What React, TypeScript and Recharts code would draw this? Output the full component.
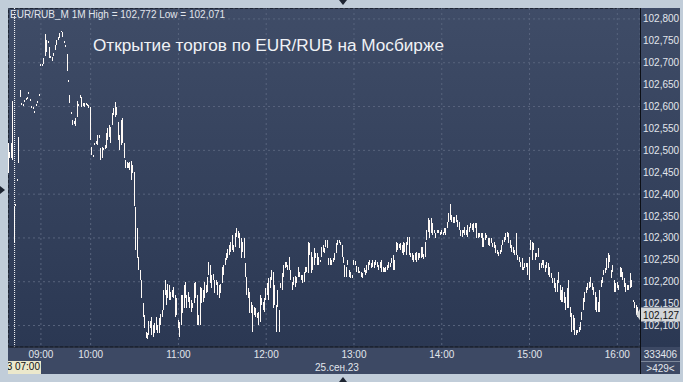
import React from 'react';
import { BarChart, Bar, XAxis, YAxis, CartesianGrid, ReferenceLine } from 'recharts';

// minute bars (low / high), grouped by trading hour
const preLow = [102.449, 102.483, 102.483, 102.478, 102.289, 102.373, 102.430, 102.471, 102.622, 102.604, 102.602, 102.611, 102.616, 102.618, 102.629, 102.613, 102.597, 102.595, 102.586, 102.602, 102.609, 102.625];
const preHigh = [102.517, 102.497, 102.517, 102.613, 102.371, 102.377, 102.434, 102.530, 102.638, 102.608, 102.606, 102.615, 102.620, 102.622, 102.633, 102.617, 102.601, 102.599, 102.590, 102.606, 102.613, 102.629];

const h09Low = [102.693, 102.694, 102.697, 102.716, 102.725, 102.746, 102.711, 102.711, 102.704, 102.716, 102.729, 102.741, 102.752, 102.757, 102.769, 102.759, 102.746, 102.735, 102.681, 102.657, 102.608, 102.584, 102.558, 102.560, 102.556, 102.577, 102.601, 102.620, 102.599, 102.603, 102.599, 102.604, 102.602, 102.597];
const h09High = [102.697, 102.698, 102.711, 102.766, 102.752, 102.750, 102.736, 102.715, 102.713, 102.722, 102.741, 102.752, 102.758, 102.768, 102.772, 102.771, 102.750, 102.740, 102.720, 102.661, 102.627, 102.588, 102.570, 102.566, 102.574, 102.613, 102.606, 102.627, 102.622, 102.609, 102.608, 102.608, 102.606, 102.604];

const h10Low = [102.524, 102.489, 102.485, 102.512, 102.515, 102.512, 102.528, 102.478, 102.483, 102.501, 102.503, 102.506, 102.524, 102.531, 102.517, 102.558, 102.581, 102.576, 102.581, 102.524, 102.501, 102.512, 102.517, 102.483, 102.460, 102.460, 102.458, 102.455, 102.433, 102.449, 102.373, 102.273, 102.255, 102.227, 102.204, 102.163, 102.120, 102.095, 102.072, 102.071, 102.079, 102.095, 102.079, 102.075, 102.083, 102.090, 102.083, 102.083, 102.102, 102.120, 102.136, 102.170, 102.147, 102.163, 102.159, 102.159, 102.165, 102.163, 102.120, 102.124];
const h10High = [102.599, 102.508, 102.490, 102.517, 102.522, 102.535, 102.535, 102.506, 102.508, 102.506, 102.512, 102.540, 102.551, 102.558, 102.554, 102.586, 102.597, 102.611, 102.599, 102.565, 102.535, 102.570, 102.574, 102.517, 102.478, 102.474, 102.470, 102.474, 102.476, 102.467, 102.451, 102.371, 102.323, 102.257, 102.227, 102.204, 102.152, 102.124, 102.086, 102.084, 102.111, 102.111, 102.120, 102.102, 102.106, 102.120, 102.102, 102.118, 102.127, 102.136, 102.182, 102.204, 102.182, 102.195, 102.193, 102.177, 102.180, 102.188, 102.170, 102.163];

const h11Low = [102.095, 102.074, 102.102, 102.129, 102.140, 102.163, 102.140, 102.154, 102.140, 102.131, 102.140, 102.152, 102.163, 102.102, 102.102, 102.102, 102.152, 102.154, 102.163, 102.175, 102.177, 102.216, 102.197, 102.186, 102.204, 102.175, 102.193, 102.170, 102.163, 102.175, 102.197, 102.216, 102.239, 102.250, 102.255, 102.261, 102.268, 102.273, 102.268, 102.280, 102.302, 102.300, 102.277, 102.255, 102.268, 102.255, 102.211, 102.170, 102.163, 102.129, 102.129, 102.086, 102.124, 102.120, 102.118, 102.102, 102.108, 102.147, 102.136, 102.131];
const h11High = [102.113, 102.108, 102.170, 102.170, 102.193, 102.200, 102.170, 102.177, 102.166, 102.159, 102.152, 102.197, 102.200, 102.170, 102.124, 102.188, 102.186, 102.182, 102.200, 102.193, 102.211, 102.245, 102.239, 102.216, 102.218, 102.204, 102.204, 102.200, 102.193, 102.195, 102.234, 102.239, 102.255, 102.266, 102.275, 102.284, 102.291, 102.307, 102.284, 102.312, 102.323, 102.316, 102.312, 102.300, 102.291, 102.300, 102.243, 102.211, 102.186, 102.177, 102.154, 102.147, 102.143, 102.140, 102.129, 102.131, 102.170, 102.163, 102.154, 102.163];

const h12Low = [102.159, 102.170, 102.159, 102.186, 102.204, 102.140, 102.147, 102.086, 102.143, 102.086, 102.186, 102.182, 102.211, 102.232, 102.234, 102.227, 102.227, 102.204, 102.182, 102.193, 102.188, 102.197, 102.211, 102.211, 102.204, 102.197, 102.200, 102.220, 102.222, 102.220, 102.261, 102.220, 102.227, 102.239, 102.255, 102.239, 102.239, 102.245, 102.257, 102.268, 102.266, 102.280, 102.277, 102.239, 102.239, 102.239, 102.245, 102.250, 102.266, 102.284, 102.289, 102.284, 102.257, 102.243, 102.211, 102.211, 102.239, 102.211, 102.209, 102.209];
const h12High = [102.186, 102.197, 102.209, 102.211, 102.227, 102.222, 102.193, 102.147, 102.182, 102.136, 102.197, 102.220, 102.239, 102.245, 102.245, 102.239, 102.257, 102.227, 102.200, 102.211, 102.213, 102.211, 102.234, 102.222, 102.216, 102.216, 102.222, 102.234, 102.234, 102.291, 102.289, 102.268, 102.257, 102.277, 102.266, 102.266, 102.257, 102.250, 102.280, 102.284, 102.277, 102.296, 102.296, 102.255, 102.255, 102.250, 102.255, 102.266, 102.289, 102.296, 102.296, 102.291, 102.284, 102.257, 102.239, 102.234, 102.250, 102.227, 102.222, 102.216];

const h13Low = [102.239, 102.239, 102.222, 102.220, 102.220, 102.211, 102.209, 102.222, 102.216, 102.220, 102.227, 102.239, 102.232, 102.234, 102.232, 102.239, 102.234, 102.227, 102.232, 102.222, 102.222, 102.222, 102.222, 102.227, 102.232, 102.234, 102.243, 102.227, 102.227, 102.268, 102.273, 102.277, 102.273, 102.266, 102.261, 102.268, 102.261, 102.284, 102.261, 102.257, 102.250, 102.245, 102.250, 102.245, 102.250, 102.255, 102.255, 102.257, 102.252, 102.257, 102.296, 102.314, 102.300, 102.312, 102.307, 102.312, 102.300, 102.312, 102.312, 102.307];
const h13High = [102.250, 102.248, 102.236, 102.234, 102.225, 102.222, 102.220, 102.232, 102.227, 102.239, 102.245, 102.250, 102.243, 102.250, 102.245, 102.250, 102.245, 102.239, 102.245, 102.250, 102.234, 102.232, 102.234, 102.239, 102.245, 102.243, 102.255, 102.261, 102.250, 102.291, 102.289, 102.286, 102.289, 102.284, 102.291, 102.289, 102.291, 102.302, 102.302, 102.266, 102.266, 102.261, 102.266, 102.268, 102.266, 102.266, 102.280, 102.280, 102.264, 102.291, 102.318, 102.346, 102.341, 102.346, 102.334, 102.318, 102.312, 102.318, 102.318, 102.314];

const h14Low = [102.309, 102.307, 102.312, 102.307, 102.323, 102.337, 102.341, 102.337, 102.334, 102.334, 102.337, 102.325, 102.318, 102.305, 102.302, 102.312, 102.307, 102.307, 102.302, 102.314, 102.323, 102.318, 102.314, 102.323, 102.300, 102.300, 102.302, 102.300, 102.280, 102.280, 102.296, 102.300, 102.284, 102.282, 102.289, 102.280, 102.277, 102.266, 102.264, 102.259, 102.264, 102.268, 102.284, 102.291, 102.296, 102.302, 102.289, 102.277, 102.268, 102.266, 102.261, 102.261, 102.250, 102.245, 102.234, 102.227, 102.227, 102.232, 102.234, 102.216];
const h14High = [102.318, 102.314, 102.323, 102.323, 102.337, 102.357, 102.377, 102.353, 102.348, 102.348, 102.353, 102.341, 102.337, 102.318, 102.318, 102.318, 102.325, 102.318, 102.330, 102.325, 102.334, 102.332, 102.334, 102.334, 102.334, 102.312, 102.312, 102.312, 102.312, 102.300, 102.312, 102.307, 102.300, 102.300, 102.300, 102.289, 102.291, 102.284, 102.273, 102.268, 102.273, 102.284, 102.296, 102.302, 102.312, 102.314, 102.312, 102.296, 102.284, 102.280, 102.273, 102.312, 102.261, 102.257, 102.245, 102.255, 102.234, 102.243, 102.243, 102.243];

const h15Low = [102.204, 102.273, 102.250, 102.273, 102.250, 102.257, 102.257, 102.227, 102.232, 102.239, 102.232, 102.222, 102.232, 102.216, 102.211, 102.209, 102.197, 102.186, 102.177, 102.177, 102.197, 102.159, 102.154, 102.154, 102.152, 102.136, 102.140, 102.140, 102.120, 102.086, 102.090, 102.079, 102.079, 102.083, 102.086, 102.090, 102.113, 102.136, 102.154, 102.175, 102.182, 102.186, 102.188, 102.182, 102.170, 102.136, 102.131, 102.131, 102.131, 102.188, 102.197, 102.216, 102.220, 102.227, 102.232, 102.245, 102.209, 102.222, 102.177, 102.177];
const h15High = [102.257, 102.296, 102.291, 102.289, 102.266, 102.266, 102.277, 102.243, 102.243, 102.250, 102.250, 102.239, 102.245, 102.243, 102.234, 102.220, 102.209, 102.209, 102.197, 102.204, 102.222, 102.193, 102.182, 102.188, 102.177, 102.166, 102.186, 102.204, 102.143, 102.129, 102.124, 102.118, 102.090, 102.090, 102.097, 102.108, 102.131, 102.163, 102.177, 102.188, 102.197, 102.200, 102.211, 102.197, 102.188, 102.177, 102.166, 102.154, 102.182, 102.204, 102.211, 102.227, 102.232, 102.255, 102.266, 102.261, 102.227, 102.239, 102.204, 102.197];

const h16Low = [102.186, 102.182, 102.211, 102.211, 102.204, 102.188, 102.177, 102.182, 102.182, 102.186, 102.188, 102.154, 102.140, 102.124, 102.120, 102.120];
const h16High = [102.200, 102.193, 102.234, 102.232, 102.222, 102.209, 102.197, 102.193, 102.193, 102.220, 102.204, 102.159, 102.154, 102.147, 102.143, 102.129];

const hourLabels = ['09:00', '10:00', '11:00', '12:00', '13:00', '14:00', '15:00', '16:00'];
const priceTicks = [102.1, 102.15, 102.2, 102.25, 102.3, 102.35, 102.4, 102.45, 102.5, 102.55, 102.6, 102.65, 102.7, 102.75, 102.8];
const lastPrice = 102.127;
const sessionStartBar = 4;

const segments = [
  [preLow, preHigh],
  [h09Low, h09High],
  [h10Low, h10High],
  [h11Low, h11High],
  [h12Low, h12High],
  [h13Low, h13High],
  [h14Low, h14High],
  [h15Low, h15High],
  [h16Low, h16High],
];

const chartData: { i: number; range: number[] }[] = [];
const hourTicks: number[] = [];
segments.forEach(([lows, highs], s) => {
  if (s > 0) hourTicks.push(chartData.length);
  lows.forEach((lo, k) => chartData.push({ i: chartData.length, range: [lo, highs[k]] }));
});

const FONT = '"Liberation Sans", Arial, sans-serif';
const TEXT = '#e2e6ec';

// crisp 1px high-low stick
const Stick = (props: any) => {
  const { x, y, width, height } = props;
  if (x == null || y == null) return null;
  const top = Math.min(y, y + height);
  const h = Math.max(1, Math.round(Math.abs(height)));
  return <rect x={Math.round(x + width / 2 - 0.5)} y={Math.round(top)} width={1} height={h} fill="#fffaf6" />;
};

const PriceTag = (props: any) => {
  const { viewBox } = props;
  const x = viewBox.x + viewBox.width;
  const y = Math.round(viewBox.y) + 0.5;
  return (
    <g>
      <polygon points={`${x - 4},${y} ${x + 1},${y - 7} ${x + 41},${y - 7} ${x + 41},${y + 7} ${x + 1},${y + 7}`} fill="#d3d6d8" />
      <text x={x + 3} y={y + 4} fontSize={10} fill="#111" fontFamily={FONT}>
        {lastPrice.toFixed(3).replace('.', ',')}
      </text>
    </g>
  );
};

const tri = (style: React.CSSProperties): React.CSSProperties => ({ position: 'absolute', width: 0, height: 0, ...style });

export default function App() {
  return (
    <div style={{ position: 'absolute', left: 0, top: 0, width: 683, height: 382, background: '#c1cdd9', overflow: 'hidden', fontFamily: FONT }}>
      <div style={{ position: 'absolute', left: 8, top: 8, width: 672, height: 339, background: 'linear-gradient(#3f4c67, #2b3853)' }} />
      <div style={{ position: 'absolute', left: 8, top: 347, width: 672, height: 27, background: '#3d4964' }} />
      <div style={{ position: 'absolute', left: 8, top: 8, width: 632, height: 1, background: '#1e2533' }} />
      <div style={{ position: 'absolute', left: 8, top: 8, width: 1, height: 339, background: '#1e2533' }} />
      <div style={{ position: 'absolute', left: 8, top: 8 }}>
        <BarChart width={672} height={366} data={chartData} margin={{ top: 0, right: 0, bottom: 0, left: 0 }} barCategoryGap={0}>
          <CartesianGrid stroke="#58647d" strokeDasharray="2 3" />
          <XAxis
            dataKey="i"
            type="category"
            ticks={hourTicks}
            interval={0}
            height={27}
            tickSize={0}
            tickMargin={4}
            axisLine={{ stroke: '#0c0f15' }}
            tick={{ fill: TEXT, fontSize: 10, fontFamily: FONT }}
            tickFormatter={(v) => hourLabels[hourTicks.indexOf(v)]}
          />
          <YAxis
            orientation="right"
            width={40}
            domain={[102.051, 102.825]}
            allowDataOverflow
            ticks={priceTicks}
            axisLine={false}
            tickLine={false}
            tickSize={0}
            tickMargin={3}
            tick={{ fill: TEXT, fontSize: 10, fontFamily: FONT, textAnchor: 'start' }}
            tickFormatter={(v) => v.toFixed(3).replace('.', ',')}
          />
          <ReferenceLine x={sessionStartBar} stroke="#ffffff" strokeDasharray="1 1" />
          <Bar dataKey="range" barSize={1} shape={<Stick />} isAnimationActive={false} />
          <ReferenceLine y={lastPrice} stroke="none" label={<PriceTag />} />
        </BarChart>
      </div>
      <div style={{ position: 'absolute', left: 640, top: 8, width: 1, height: 366, background: '#0c0f15' }} />
      <div style={{ position: 'absolute', left: 641, top: 361, width: 39, height: 1, background: '#7d889a' }} />
      <div style={{ position: 'absolute', left: 10, top: 9, fontSize: 10, color: TEXT, whiteSpace: 'nowrap' }}>
        EUR/RUB_M 1M High = 102,772 Low = 102,071
      </div>
      <div style={{ position: 'absolute', left: 93, top: 35, fontSize: 17.2, color: '#f0f2f6', whiteSpace: 'nowrap' }}>
        Открытие торгов по EUR/RUB на Мосбирже
      </div>
      <div style={{ position: 'absolute', left: 300, top: 362, width: 74, textAlign: 'center', fontSize: 10, color: TEXT }}>25.сен.23</div>
      <div style={{ position: 'absolute', left: 641, top: 349, width: 39, textAlign: 'center', fontSize: 10, color: TEXT }}>333406</div>
      <div style={{ position: 'absolute', left: 641, top: 363, width: 39, textAlign: 'center', fontSize: 10, color: TEXT }}>&gt;429&lt;</div>
      <div style={{ position: 'absolute', left: 8, top: 361, width: 33, height: 13, background: '#ebe8cc', overflow: 'hidden' }}>
        <div style={{ position: 'absolute', right: 1, top: 0, fontSize: 10, color: '#111', whiteSpace: 'nowrap' }}>3 07:00</div>
      </div>
      <div style={tri({ left: 339, top: 0, borderLeft: '4px solid transparent', borderRight: '4px solid transparent', borderTop: '5px solid #1d2431' })} />
      <div style={tri({ left: 339, top: 377, borderLeft: '4px solid transparent', borderRight: '4px solid transparent', borderBottom: '5px solid #1d2431' })} />
      <div style={tri({ left: 0, top: 186, borderTop: '4px solid transparent', borderBottom: '4px solid transparent', borderLeft: '5px solid #1d2431' })} />
    </div>
  );
}
